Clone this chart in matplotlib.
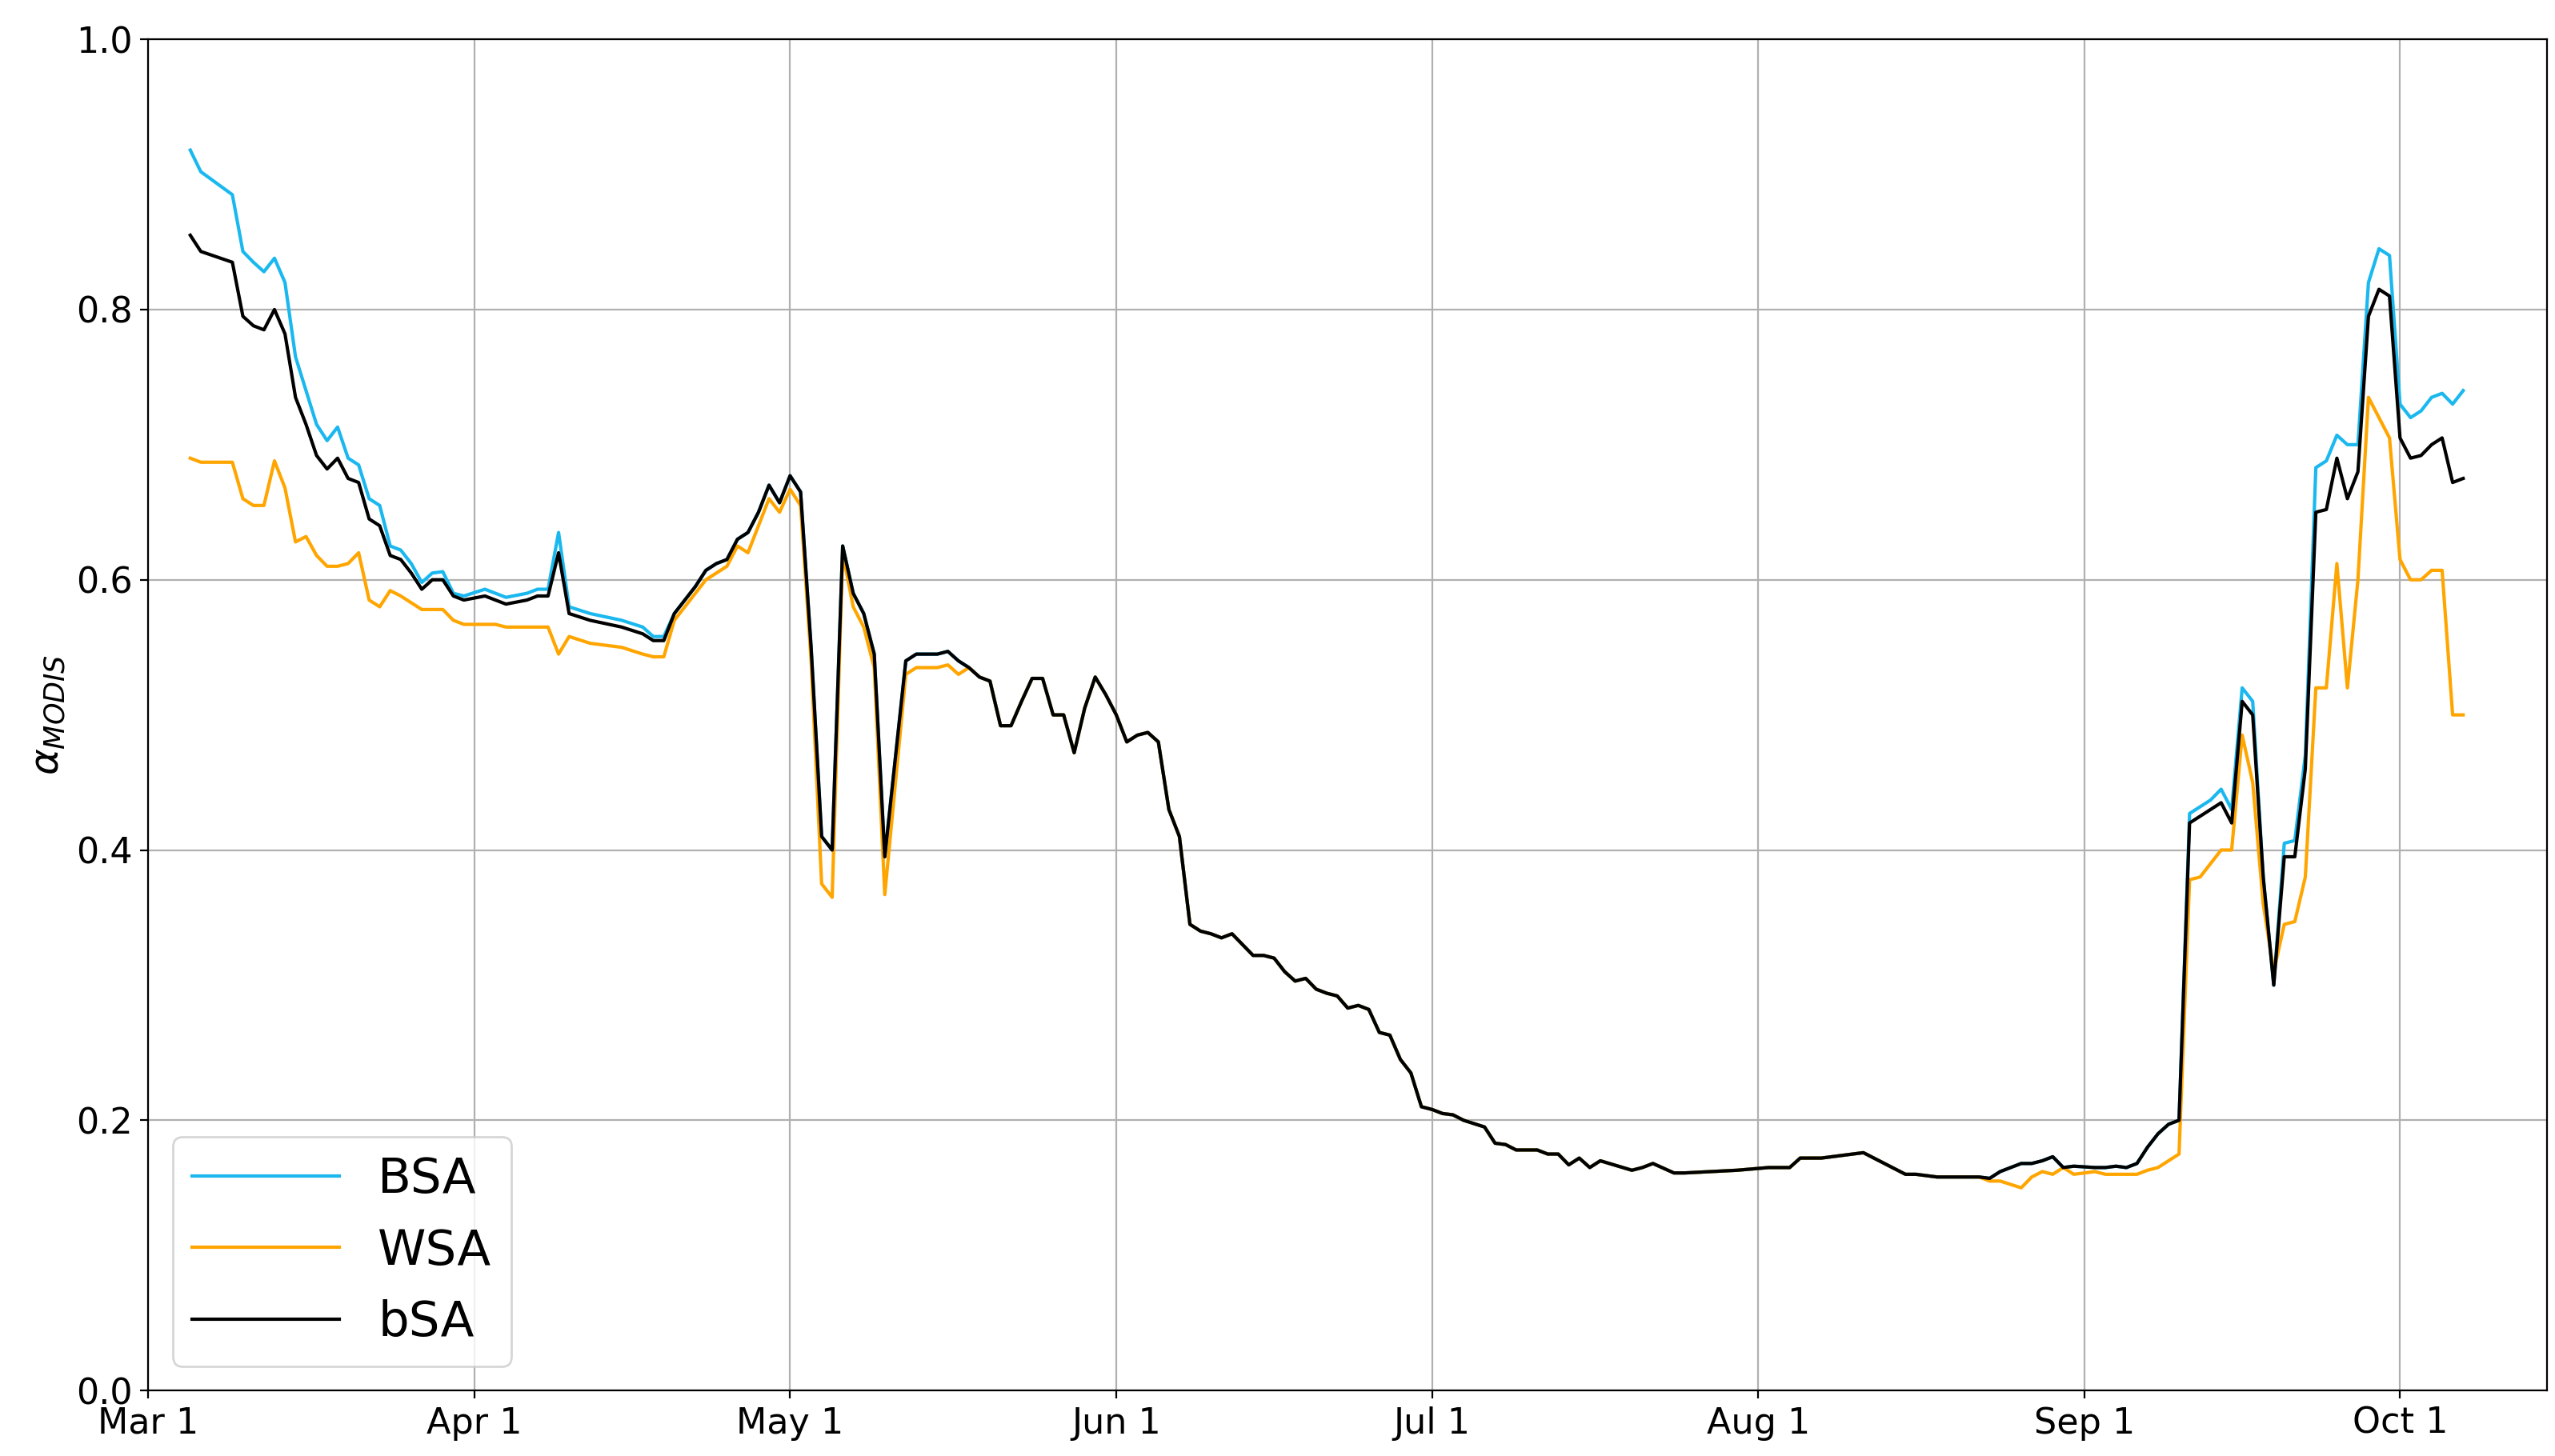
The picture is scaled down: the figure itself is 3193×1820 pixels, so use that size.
import numpy as np
import pandas as pd
import matplotlib.pyplot as plt
import matplotlib.dates as mdates

# day offsets from 2019-03-01 and albedo values
days = [4, 5, 8, 9, 10, 11, 12, 13, 14, 15, 16, 17, 18, 19, 20, 21, 22, 23, 24, 25,
        26, 27, 28, 29, 30, 32, 33, 34, 36, 37, 38, 39, 40, 42, 45, 47, 48, 49, 50, 52,
        53, 54, 55, 56, 57, 58, 59, 60, 61, 62, 63, 64, 65, 66, 67, 68, 69, 70, 72, 73,
        74, 75, 76, 77, 78, 79, 80, 81, 82, 83, 84, 85, 86, 87, 88, 89, 90, 91, 92, 93,
        94, 95, 96, 97, 98, 99, 100, 101, 102, 103, 104, 105, 106, 107, 108, 109, 110, 111, 112, 113, 114,
        115, 116, 117, 118, 119, 120, 121, 122, 123, 124, 125, 127, 128, 129, 130, 131, 132, 133, 134, 135, 136,
        137, 138, 141, 142, 143, 145, 146, 151, 154, 156, 157, 158, 159, 162, 163, 167, 168, 170, 171, 174,
        175, 176, 178, 179, 180, 181, 182, 183, 185, 186, 187, 188, 189, 190, 191, 192, 193, 194, 195, 196,
        197, 198, 199, 200, 201, 202, 203, 204, 205, 206, 207, 208, 209, 210, 211, 212, 213, 214, 215, 216,
        217, 218, 219, 220]
bsa_black = [0.855, 0.843, 0.835, 0.795, 0.788, 0.785, 0.800, 0.782, 0.735, 0.715, 0.692, 0.682, 0.690, 0.675, 0.672, 0.645, 0.640, 0.618, 0.615, 0.605,
             0.593, 0.600, 0.600, 0.588, 0.585, 0.588, 0.585, 0.582, 0.585, 0.588, 0.588, 0.620, 0.575, 0.570, 0.565, 0.560, 0.555, 0.555, 0.575, 0.595,
             0.607, 0.612, 0.615, 0.630, 0.635, 0.650, 0.670, 0.657, 0.677, 0.665, 0.550, 0.410, 0.400, 0.625, 0.590, 0.575, 0.545, 0.395, 0.540, 0.545,
             0.545, 0.545, 0.547, 0.540, 0.535, 0.528, 0.525, 0.492, 0.492, 0.510, 0.527, 0.527, 0.500, 0.500, 0.472, 0.505, 0.528, 0.515, 0.500, 0.480,
             0.485, 0.487, 0.480, 0.430, 0.410, 0.345, 0.340, 0.338, 0.335, 0.338, 0.330, 0.322, 0.322, 0.320, 0.310, 0.303, 0.305, 0.297, 0.294, 0.292,
             0.283, 0.285, 0.282, 0.265, 0.263, 0.245, 0.235, 0.210, 0.208, 0.205, 0.204, 0.200, 0.195, 0.183, 0.182, 0.178, 0.178, 0.178, 0.175, 0.175,
             0.167, 0.172, 0.165, 0.170, 0.163, 0.165, 0.168, 0.161, 0.161, 0.163, 0.165, 0.165, 0.172, 0.172, 0.172, 0.175, 0.176, 0.160, 0.160, 0.158,
             0.158, 0.158, 0.157, 0.162, 0.168, 0.168, 0.170, 0.173, 0.165, 0.166, 0.165, 0.165, 0.166, 0.165, 0.168, 0.180, 0.190, 0.197, 0.200, 0.420,
             0.425, 0.430, 0.435, 0.420, 0.510, 0.500, 0.380, 0.300, 0.395, 0.395, 0.460, 0.650, 0.652, 0.690, 0.660, 0.680, 0.795, 0.815, 0.810, 0.705,
             0.690, 0.692, 0.700, 0.705, 0.672, 0.675]

bsa = list(bsa_black)
wsa = list(bsa_black)
# early March-April, where the three diverge
bsa[:25] = [0.918, 0.902, 0.885, 0.843, 0.835, 0.828, 0.838, 0.820, 0.765, 0.740, 0.715, 0.703, 0.713, 0.690, 0.685, 0.660, 0.655, 0.625, 0.622, 0.612,
            0.598, 0.605, 0.606, 0.590, 0.588]
bsa[25:38] = [0.593, 0.590, 0.587, 0.590, 0.593, 0.593, 0.635, 0.580, 0.575, 0.570, 0.565, 0.558, 0.558]
wsa[:38] = [0.690, 0.687, 0.687, 0.660, 0.655, 0.655, 0.688, 0.668, 0.628, 0.632, 0.618, 0.610, 0.610, 0.612, 0.620, 0.585, 0.580, 0.592, 0.588, 0.583,
            0.578, 0.578, 0.578, 0.570, 0.567, 0.567, 0.567, 0.565, 0.565, 0.565, 0.565, 0.545, 0.558, 0.553, 0.550, 0.545, 0.543, 0.543]
wsa[38:59] = [0.570, 0.590, 0.600, 0.605, 0.610, 0.625, 0.620, 0.640, 0.660, 0.650, 0.667, 0.655, 0.540, 0.375, 0.365, 0.620, 0.580, 0.565, 0.535, 0.367, 0.530]
wsa[59:64] = [0.535, 0.535, 0.535, 0.537, 0.530]
# late September-October
bsa[-27:] = [0.427, 0.432, 0.437, 0.445, 0.430, 0.520, 0.510, 0.380, 0.300, 0.405, 0.407, 0.470, 0.683, 0.688, 0.707, 0.700, 0.700, 0.820, 0.845, 0.840,
             0.730, 0.720, 0.725, 0.735, 0.738, 0.730, 0.740]
wsa[-34:] = [0.160, 0.160, 0.160, 0.163, 0.165, 0.170, 0.175, 0.378, 0.380, 0.390, 0.400, 0.400, 0.485, 0.450, 0.360, 0.310, 0.345, 0.347, 0.380, 0.520,
             0.520, 0.612, 0.520, 0.600, 0.735, 0.720, 0.705, 0.615, 0.600, 0.600, 0.607, 0.607, 0.500, 0.500]
wsa[-44:-34] = [0.155, 0.155, 0.150, 0.158, 0.162, 0.160, 0.165, 0.160, 0.162, 0.160]

dates = pd.Timestamp("2019-03-01") + pd.to_timedelta(days, unit="D")

fig, ax = plt.subplots(figsize=(15.965, 9.1), dpi=200)
fig.subplots_adjust(left=0.058, right=0.997, top=0.973, bottom=0.045)

ax.plot(dates, bsa, color="#1ab8ef", lw=1.5, label="BSA")
ax.plot(dates, wsa, color="#ffa500", lw=1.5, label="WSA")
ax.plot(dates, bsa_black, color="black", lw=1.5, label="bSA")

ax.set_ylim(0, 1)
ax.set_xlim(pd.Timestamp("2019-03-01"), pd.Timestamp("2019-10-15"))
ax.xaxis.set_major_locator(mdates.MonthLocator())
ax.xaxis.set_major_formatter(mdates.DateFormatter("%b 1"))
ax.set_yticks(np.arange(0, 1.01, 0.2))
ax.tick_params(labelsize=16)
ax.set_ylabel(r"$\alpha_{MODIS}$", fontsize=18)
ax.grid(True, color="#b0b0b0")
ax.legend(loc="lower left", fontsize=22, handlelength=3)

fig.savefig("out.png")
